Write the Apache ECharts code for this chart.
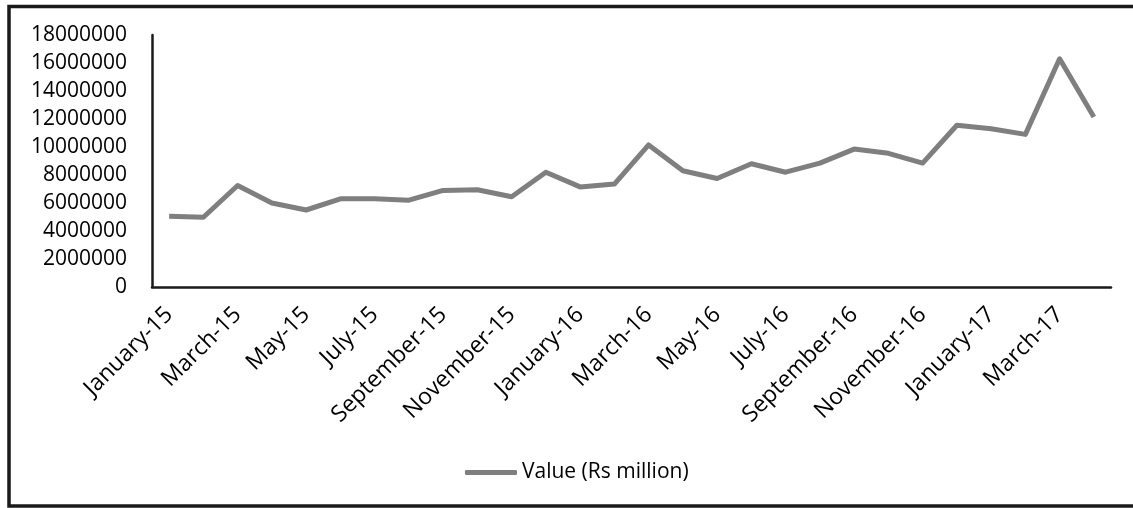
<!DOCTYPE html>
<html>
<head>
<meta charset="utf-8">
<style>
  html, body { margin: 0; padding: 0; background: #ffffff; }
  #chart { width: 1133px; height: 508px; }
</style>
<script src="https://cdn.jsdelivr.net/npm/echarts@6/dist/echarts.min.js"></script>
</head>
<body>
<div id="chart"></div>
<script>
// Monthly values, January 2015 to April 2017
const months = [
  'January-15', 'February-15', 'March-15', 'April-15', 'May-15', 'June-15',
  'July-15', 'August-15', 'September-15', 'October-15', 'November-15', 'December-15',
  'January-16', 'February-16', 'March-16', 'April-16', 'May-16', 'June-16',
  'July-16', 'August-16', 'September-16', 'October-16', 'November-16', 'December-16',
  'January-17', 'February-17', 'March-17', 'April-17'
];
const seriesName = 'Value (Rs million)';
const values = [
  5050000, 4980000, 7250000, 6000000, 5500000, 6300000,
  6300000, 6200000, 6900000, 6950000, 6450000, 8200000,
  7150000, 7350000, 10150000, 8300000, 7750000, 8800000,
  8200000, 8850000, 9850000, 9550000, 8850000, 11550000,
  11300000, 10900000, 16300000, 12150000
];
const yMin = 0;
const yMax = 18000000;
const yStep = 2000000;

const font = '"Open Sans", "Noto Sans", sans-serif';
const lineColor = '#7f7f7f';
const ink = '#1a1a1a';

const chart = echarts.init(document.getElementById('chart'), null, { renderer: 'canvas' });
chart.setOption({
  animation: false,
  backgroundColor: '#ffffff',
  graphic: [{
    type: 'rect',
    shape: { x: 9, y: 6.5, width: 1140, height: 499.5 },
    style: { fill: 'none', stroke: ink, lineWidth: 3.5 },
    silent: true,
    z: 100
  }],
  grid: { left: 152, top: 35, right: 22, bottom: 221, containLabel: false },
  legend: {
    data: [{ name: seriesName, icon: 'roundRect' }],
    left: 460,
    top: 457,
    itemWidth: 52,
    itemHeight: 5,
    itemGap: 10,
    textStyle: { fontFamily: font, fontSize: 21, color: '#000000', padding: [0, 0, 0, 0] }
  },
  xAxis: {
    type: 'category',
    data: months,
    boundaryGap: true,
    axisLine: { show: true, lineStyle: { color: ink, width: 2.5 } },
    axisTick: { show: false },
    splitLine: { show: false },
    axisLabel: {
      interval: 1,
      rotate: 45,
      margin: 24,
      fontFamily: font,
      fontSize: 23,
      color: '#000000'
    }
  },
  yAxis: {
    type: 'value',
    min: yMin,
    max: yMax,
    interval: yStep,
    axisLine: { show: true, lineStyle: { color: ink, width: 2.5 } },
    axisTick: { show: false },
    splitLine: { show: false },
    axisLabel: {
      margin: 25,
      fontFamily: font,
      fontSize: 21,
      color: '#000000',
      formatter: v => String(v)
    }
  },
  series: [{
    name: seriesName,
    type: 'line',
    data: values,
    showSymbol: false,
    symbol: 'none',
    lineStyle: { color: lineColor, width: 5, join: 'round' },
    itemStyle: { color: lineColor }
  }]
});
</script>
</body>
</html>
